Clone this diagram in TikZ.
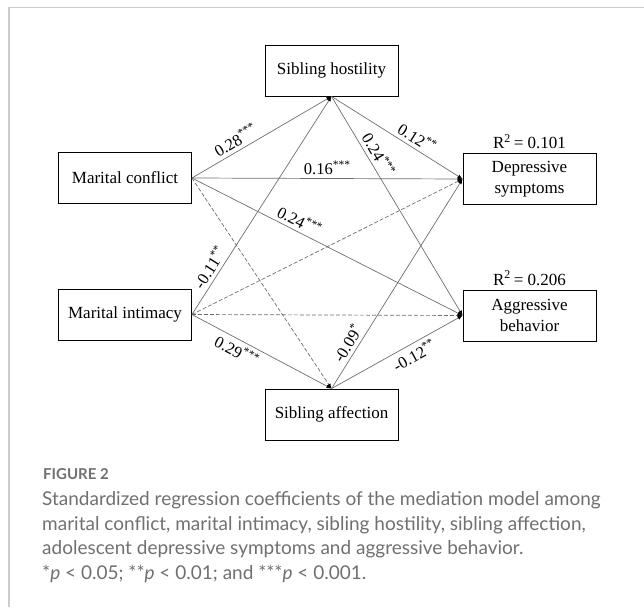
\documentclass[tikz,border=0pt]{standalone}
\usepackage{fontspec}
\setmainfont{Liberation Serif}
\newfontfamily\capfont{Lato}
\usepackage{xcolor}
\usepackage{tikz}
\usetikzlibrary{arrows.meta,positioning}
\definecolor{edgegray}{HTML}{6E6E6E}
\definecolor{capgray}{HTML}{707070}
\definecolor{framegray}{HTML}{CCCCCC}
\begin{document}
\begin{tikzpicture}[
            x=1pt,y=-1pt,
            varbox/.style={draw,thick,align=center,minimum width=133pt,minimum height=51pt,inner sep=2pt,font=\fontsize{17}{21.5}\selectfont},
            arrow/.style={-{Latex[length=5pt,width=4pt,black]},edgegray,line width=0.7pt},
            dasharrow/.style={arrow,dash pattern=on 4pt off 2pt},
            coef/.style={font=\fontsize{16.5}{18}\selectfont,text=black,sloped,inner sep=3.5pt},
            rsq/.style={font=\fontsize{17}{19}\selectfont,inner sep=0pt}
        ]
            \useasboundingbox (0,0) rectangle (644,607);
            % card frame (open to the right and bottom)
            \draw[framegray,line width=1.5pt] (9,607) -- (9,7.5) -- (644,7.5);
            % variables
            \node[varbox] (hostil) at (331.5,70.5) {Sibling hostility};
            \node[varbox] (conflict) at (125,178) {Marital conflict};
            \node[varbox] (depress) at (529.5,179) {Depressive\\symptoms};
            \node[varbox] (intimacy) at (125,314.5) {Marital intimacy};
            \node[varbox] (aggress) at (529.5,315.5) {Aggressive\\behavior};
            \node[varbox] (affect) at (331.5,414.5) {Sibling affection};
            \node[rsq,above=4pt of depress] (rdep) {R\textsuperscript{2}\,= 0.101};
            \node[rsq,above=4pt of aggress] (ragg) {R\textsuperscript{2}\,= 0.206};
            % paths
            \draw[arrow] (conflict.east) -- node[coef,pos=0.35,above] {0.28\textsuperscript{***}} (hostil.south);
            \draw[arrow] (conflict.east) -- node[coef,pos=0.5,above] {0.16\textsuperscript{***}} (depress.west);
            \draw[arrow] (conflict.east) -- node[coef,pos=0.38,above] {0.24\textsuperscript{***}} (aggress.west);
            \draw[dasharrow] (conflict.east) -- (affect.north);
            \draw[arrow] (intimacy.east) -- node[coef,pos=0.19,above] {-0.11\textsuperscript{**}} (hostil.south);
            \draw[dasharrow] (intimacy.east) -- (depress.west);
            \draw[dasharrow] (intimacy.east) -- (aggress.west);
            \draw[arrow] (intimacy.east) -- node[coef,pos=0.36,below] {0.29\textsuperscript{***}} (affect.north);
            \draw[arrow] (hostil.south) -- node[coef,pos=0.61,above] {0.12\textsuperscript{**}} (depress.west);
            \draw[arrow] (hostil.south) -- node[coef,pos=0.29,above] {0.24\textsuperscript{***}} (aggress.west);
            \draw[arrow] (affect.north) -- node[coef,pos=0.19,above] {-0.09\textsuperscript{*}} (depress.west);
            \draw[arrow] (affect.north) -- node[coef,pos=0.59,below] {-0.12\textsuperscript{**}} (aggress.west);
            % caption
            \node[anchor=west,capgray,inner sep=0pt,font=\capfont\bfseries\fontsize{15}{17}\selectfont] (figno) at (43,474) {FIGURE 2};
            \node[anchor=west,capgray,inner sep=0pt,align=left,font=\capfont\fontsize{19}{24.5}\selectfont] (caption) at (42,537)
                {Standardized regression coefficients of the mediation model among\\
                 marital conflict, marital intimacy, sibling hostility, sibling affection,\\
                 adolescent depressive symptoms and aggressive behavior.\\
                 *\textit{p} < 0.05; **\textit{p} < 0.01; and ***\textit{p} < 0.001.};
        \end{tikzpicture}
\end{document}
